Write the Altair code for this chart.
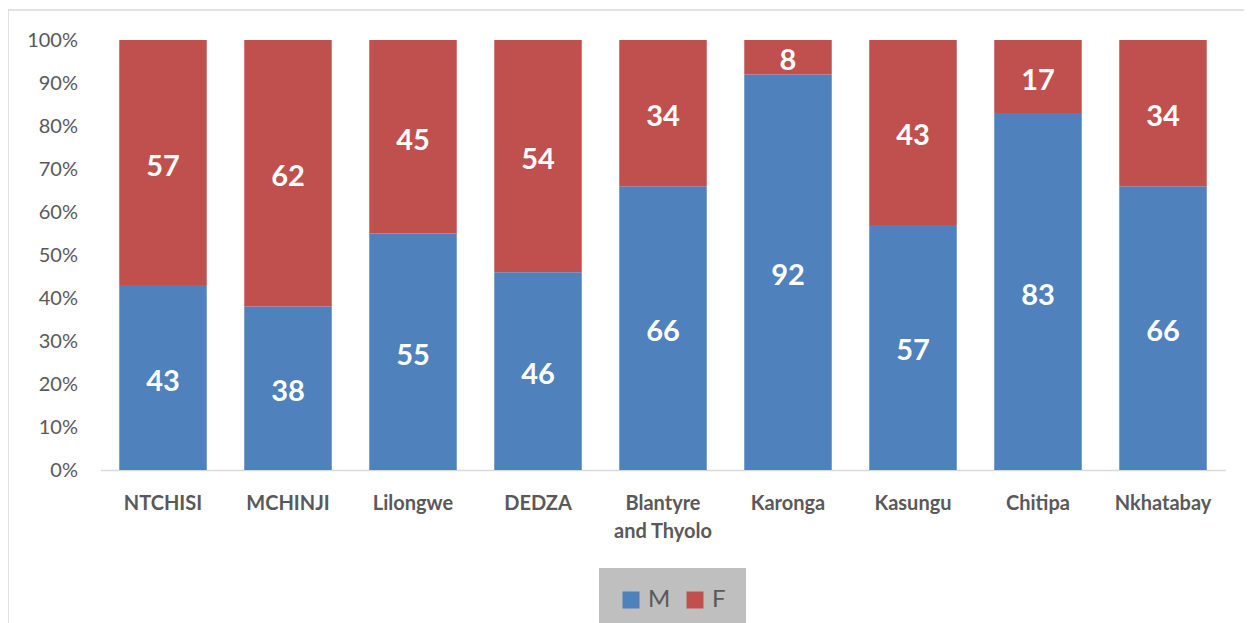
import altair as alt
import pandas as pd

districts = ["NTCHISI", "MCHINJI", "Lilongwe", "DEDZA", "Blantyre and Thyolo",
             "Karonga", "Kasungu", "Chitipa", "Nkhatabay"]
male = [43, 38, 55, 46, 66, 92, 57, 83, 66]
female = [57, 62, 45, 54, 34, 8, 43, 17, 34]
sexes = ["M", "F"]
colors = ["#4f81bd", "#c0504d"]

rows = []
for d, m, f in zip(districts, male, female):
    rows.append({"district": d, "sex": "M", "value": m, "order": 0})
    rows.append({"district": d, "sex": "F", "value": f, "order": 1})
df = pd.DataFrame(rows)

FONT = "Lato"
W, H = 1125, 430
PL, PT = 92.5, 32
TW, TH = 1236, 615

x = alt.X("district:N", sort=districts, title=None,
          scale=alt.Scale(paddingInner=0.3, paddingOuter=0.15),
          axis=alt.Axis(labelAngle=0, labelFont=FONT, labelFontSize=20, labelFontWeight="bold",
                        labelColor="#595959", ticks=False, labelPadding=23,
                        domainColor="#d9d9d9", domainWidth=1.5, labelLineHeight=28,
                        labelExpr="datum.label == 'Blantyre and Thyolo' ? ['Blantyre', 'and Thyolo'] : datum.label"))

base = alt.Chart(df)

bars = base.mark_bar().encode(
    x=x,
    y=alt.Y("value:Q", stack="normalize", title=None,
            scale=alt.Scale(domain=[0, 1], nice=False),
            axis=alt.Axis(format="%", values=[i / 10 for i in range(11)], grid=False,
                          domain=False, ticks=False, labelFont=FONT, labelFontSize=20,
                          labelColor="#595959", labelPadding=23)),
    color=alt.Color("sex:N", sort=sexes, scale=alt.Scale(domain=sexes, range=colors),
                    legend=alt.Legend(title=None, orient="none", direction="horizontal",
                                      legendX=498.5, legendY=528, fillColor="#bfbfbf",
                                      padding=20, symbolType="square", symbolSize=289,
                                      symbolStrokeWidth=0, labelFont=FONT, labelFontSize=24,
                                      labelColor="#595959", columnPadding=12, labelOffset=5)),
    order=alt.Order("order:Q"),
)

labels = base.mark_text(color="white", font=FONT, fontSize=29, fontWeight="bold", dy=4).encode(
    x=x,
    y=alt.Y("value:Q", stack="normalize", bandPosition=0.5),
    text=alt.Text("value:Q"),
    order=alt.Order("order:Q"),
)

border_left = alt.Chart(pd.DataFrame({"a": [0]})).mark_rule(color="#d9d9d9", strokeWidth=1.5, clip=False).encode(
    x=alt.value(8 - 8 - PL), y=alt.value(10 - 8 - PT), y2=alt.value(H + 200))
border_top = alt.Chart(pd.DataFrame({"a": [0]})).mark_rule(color="#d9d9d9", strokeWidth=1.5, clip=False).encode(
    y=alt.value(10 - 8 - PT), x=alt.value(-PL), x2=alt.value(TW - PL))

chart = alt.layer(bars, labels, border_left, border_top).properties(
    width=W, height=H,
    padding={"left": PL, "top": PT, "right": TW - PL - W, "bottom": TH - PT - H},
    autosize=alt.AutoSizeParams(type="none"),
).configure_view(stroke=None)

chart.save("out.html", embed_options={"renderer": "svg", "actions": False})
